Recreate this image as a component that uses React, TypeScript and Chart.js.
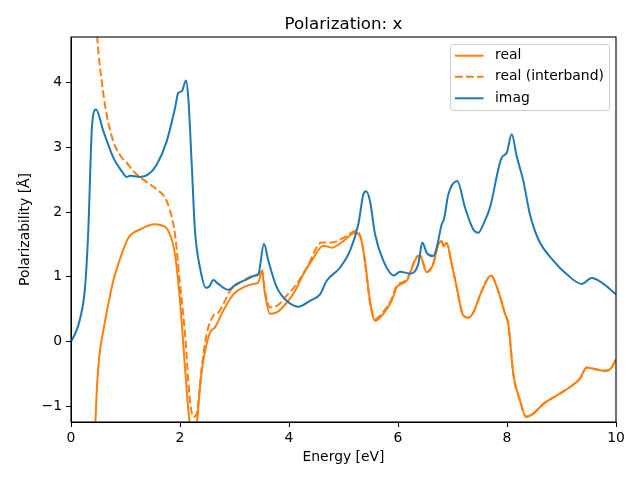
import React, { useEffect, useRef } from 'react';
import { Chart, registerables } from 'chart.js';

Chart.register(...registerables);

const FONT = "'DejaVu Sans', 'Liberation Sans', sans-serif";
const ORANGE = '#ff7f0e';
const BLUE = '#1f77b4';

const TITLE = 'Polarization: x';
const X_LABEL = 'Energy [eV]';
const Y_LABEL = 'Polarizability [Å]';
const LEGEND_LABELS = ['real', 'real (interband)', 'imag'];

const xTicks = [0, 2, 4, 6, 8, 10];
const yTicks = [-1, 0, 1, 2, 3, 4];

const realE = [0.445, 0.47, 0.50, 0.532, 0.593, 0.684, 0.776, 0.93, 1.051, 1.266, 1.541, 1.633, 1.785, 1.908, 2.0, 2.092, 2.171, 2.245, 2.31, 2.367, 2.428, 2.55, 2.642, 2.795, 2.978, 3.193, 3.345, 3.437, 3.499, 3.56, 3.651, 3.774, 3.958, 4.11, 4.262, 4.417, 4.629, 4.784, 4.996, 5.211, 5.303, 5.394, 5.486, 5.578, 5.73, 5.884, 5.976, 6.16, 6.343, 6.404, 6.527, 6.648, 6.739, 6.802, 6.84, 6.89, 6.985, 7.077, 7.198, 7.29, 7.382, 7.536, 7.706, 7.84, 7.963, 8.024, 8.116, 8.239, 8.349, 8.483, 8.666, 8.912, 9.156, 9.339, 9.462, 9.584, 9.798, 9.92, 10.0];
const realV = [-1.32, -0.80, -0.40, -0.13, 0.17, 0.58, 0.94, 1.35, 1.60, 1.73, 1.81, 1.80, 1.71, 1.35, 0.63, -0.40, -1.2, -1.45, -1.25, -0.70, -0.29, 0.14, 0.22, 0.48, 0.73, 0.85, 0.89, 0.91, 1.09, 0.73, 0.43, 0.45, 0.60, 0.78, 1.04, 1.25, 1.48, 1.45, 1.55, 1.68, 1.63, 1.25, 0.63, 0.32, 0.43, 0.63, 0.84, 0.94, 1.30, 1.32, 1.07, 1.20, 1.50, 1.55, 1.47, 1.52, 1.20, 0.84, 0.40, 0.37, 0.45, 0.78, 1.02, 0.78, 0.43, 0.27, -0.50, -0.91, -1.16, -1.11, -0.96, -0.83, -0.70, -0.57, -0.40, -0.42, -0.45, -0.40, -0.27];

const interE = [0.44, 0.483, 0.563, 0.655, 0.776, 0.93, 1.022, 1.143, 1.327, 1.572, 1.725, 1.817, 1.908, 2.0, 2.092, 2.183, 2.244, 2.306, 2.398, 2.49, 2.611, 2.703, 2.826, 2.917, 3.10, 3.284, 3.437, 3.499, 3.56, 3.651, 3.774, 3.958, 4.141, 4.325, 4.60, 4.784, 4.996, 5.242, 5.334, 5.394, 5.486, 5.578, 5.73, 5.884, 5.976, 6.16, 6.343, 6.404, 6.527, 6.648, 6.739, 6.802, 6.84, 6.89, 6.985, 7.077, 7.198, 7.29, 7.382, 7.536, 7.706, 7.84, 7.963, 8.024, 8.116, 8.239, 8.349, 8.483, 8.666, 8.912, 9.156, 9.339, 9.462, 9.584, 9.798, 9.92, 10.0];
const interV = [5.4, 4.68, 4.02, 3.50, 3.09, 2.84, 2.76, 2.63, 2.50, 2.35, 2.22, 2.02, 1.66, 0.89, 0.12, -0.91, -1.16, -1.11, -0.40, 0.12, 0.40, 0.45, 0.63, 0.78, 0.91, 1.00, 1.04, 1.12, 0.78, 0.53, 0.55, 0.71, 0.89, 1.14, 1.53, 1.53, 1.60, 1.71, 1.55, 1.22, 0.60, 0.35, 0.46, 0.66, 0.86, 0.96, 1.31, 1.33, 1.08, 1.21, 1.50, 1.55, 1.47, 1.52, 1.20, 0.84, 0.40, 0.37, 0.45, 0.78, 1.02, 0.78, 0.43, 0.27, -0.50, -0.91, -1.16, -1.11, -0.96, -0.83, -0.70, -0.57, -0.40, -0.42, -0.45, -0.40, -0.27];

const imagE = [0, 0.1, 0.165, 0.257, 0.317, 0.38, 0.41, 0.459, 0.593, 0.776, 0.93, 1.022, 1.083, 1.266, 1.418, 1.572, 1.756, 1.908, 1.969, 2.031, 2.11, 2.152, 2.215, 2.275, 2.367, 2.477, 2.538, 2.611, 2.703, 2.886, 3.04, 3.224, 3.376, 3.437, 3.541, 3.62, 3.774, 3.958, 4.17, 4.385, 4.569, 4.692, 4.936, 5.119, 5.272, 5.363, 5.413, 5.486, 5.578, 5.73, 5.927, 6.037, 6.22, 6.373, 6.446, 6.527, 6.648, 6.71, 6.802, 6.844, 6.923, 7.088, 7.229, 7.382, 7.473, 7.565, 7.688, 7.903, 7.994, 8.086, 8.178, 8.299, 8.422, 8.574, 8.85, 9.096, 9.37, 9.554, 9.738, 10.0];
const imagV = [0, 0.17, 0.35, 0.83, 1.71, 3.25, 3.51, 3.58, 3.25, 2.84, 2.63, 2.54, 2.56, 2.54, 2.58, 2.73, 3.09, 3.60, 3.84, 3.86, 4.03, 3.76, 2.74, 1.71, 1.14, 0.83, 0.85, 0.95, 0.89, 0.80, 0.89, 0.96, 1.02, 1.04, 1.51, 1.25, 0.84, 0.63, 0.54, 0.63, 0.73, 0.94, 1.14, 1.40, 1.81, 2.27, 2.32, 2.17, 1.66, 1.25, 1.02, 1.08, 1.05, 1.20, 1.53, 1.37, 1.32, 1.45, 1.81, 1.89, 2.27, 2.48, 2.07, 1.73, 1.68, 1.81, 2.07, 2.84, 2.91, 3.20, 2.86, 2.48, 1.96, 1.58, 1.25, 1.04, 0.89, 0.98, 0.91, 0.73];

const Y_MIN = -1.24;
const Y_MAX = 4.7;
const X_MIN = 0;
const X_MAX = 10;

const pts = (xs: number[], ys: number[]) => xs.map((x, i) => ({ x, y: ys[i] }));

const DASH = [7.7, 3.3];

const decorPlugin = {
  id: 'decor',
  afterDatasetsDraw(chart: any) {
    const { ctx, chartArea } = chart;
    ctx.save();
    ctx.strokeStyle = '#000';
    ctx.lineWidth = 1.1;
    ctx.strokeRect(chartArea.left, chartArea.top, chartArea.right - chartArea.left, chartArea.bottom - chartArea.top);
    ctx.restore();
  },
  afterDraw(chart: any) {
    const { ctx, chartArea } = chart;
    ctx.save();
    ctx.fillStyle = '#000';
    ctx.font = `16.7px ${FONT}`;
    ctx.textAlign = 'center';
    ctx.textBaseline = 'alphabetic';
    ctx.fillText(TITLE, (chartArea.left + chartArea.right) / 2, 29);

    const bx = 450.5, by = 44.5, bw = 159, bh = 66, r = 3;
    ctx.beginPath();
    ctx.moveTo(bx + r, by);
    ctx.lineTo(bx + bw - r, by);
    ctx.arcTo(bx + bw, by, bx + bw, by + r, r);
    ctx.lineTo(bx + bw, by + bh - r);
    ctx.arcTo(bx + bw, by + bh, bx + bw - r, by + bh, r);
    ctx.lineTo(bx + r, by + bh);
    ctx.arcTo(bx, by + bh, bx, by + bh - r, r);
    ctx.lineTo(bx, by + r);
    ctx.arcTo(bx, by, bx + r, by, r);
    ctx.closePath();
    ctx.fillStyle = 'rgba(255,255,255,0.8)';
    ctx.fill();
    ctx.strokeStyle = '#cccccc';
    ctx.lineWidth = 1;
    ctx.stroke();

    const rows = [55.7, 76.7, 98.3];
    chart.data.datasets.forEach((ds: any, i: number) => {
      const y = rows[i];
      ctx.beginPath();
      ctx.strokeStyle = ds.borderColor;
      ctx.lineWidth = 2;
      ctx.setLineDash(ds.borderDash || []);
      ctx.moveTo(455, y);
      ctx.lineTo(483.5, y);
      ctx.stroke();
      ctx.setLineDash([]);
      ctx.fillStyle = '#000';
      ctx.font = `13.9px ${FONT}`;
      ctx.textAlign = 'left';
      ctx.textBaseline = 'middle';
      ctx.fillText(LEGEND_LABELS[i], 495, y);
    });
    ctx.restore();
  },
};

export default function App() {
  const ref = useRef<HTMLCanvasElement>(null);
  useEffect(() => {
    document.body.style.margin = '0';
    const common = {
      fill: false,
      pointRadius: 0,
      borderWidth: 2,
      cubicInterpolationMode: 'monotone' as const,
      clip: 0,
    };
    const tickFont = { family: FONT, size: 13.9 };
    const chart = new Chart(ref.current!, {
      type: 'line',
      data: {
        datasets: [
          { ...common, label: LEGEND_LABELS[0], data: pts(realE, realV), borderColor: ORANGE, order: 3 },
          { ...common, label: LEGEND_LABELS[1], data: pts(interE, interV), borderColor: ORANGE, borderDash: DASH, order: 2 },
          { ...common, label: LEGEND_LABELS[2], data: pts(imagE, imagV), borderColor: BLUE, order: 1 },
        ],
      },
      options: {
        responsive: false,
        animation: false,
        devicePixelRatio: 1,
        events: [],
        layout: { padding: { top: 37, right: 24, left: 0, bottom: 0 } },
        plugins: {
          legend: { display: false },
          tooltip: { enabled: false },
          title: { display: false },
        },
        scales: {
          x: {
            type: 'linear',
            min: X_MIN,
            max: X_MAX,
            afterFit: (s: any) => { s.height = 58; },
            afterBuildTicks: (s: any) => { s.ticks = xTicks.map((v) => ({ value: v })); },
            grid: { drawOnChartArea: false, drawTicks: true, tickLength: 5, color: '#000', lineWidth: 1 },
            border: { display: true, color: '#000', width: 1 },
            ticks: { color: '#000', font: tickFont, padding: 3, maxRotation: 0, callback: (v: any) => String(v) },
            title: { display: true, text: X_LABEL, color: '#000', font: { family: FONT, size: 13.9 }, padding: { top: 0, bottom: 14.6 } },
          },
          y: {
            type: 'linear',
            min: Y_MIN,
            max: Y_MAX,
            afterFit: (s: any) => { s.width = 71; },
            afterBuildTicks: (s: any) => { s.ticks = yTicks.map((v) => ({ value: v })); },
            grid: { drawOnChartArea: false, drawTicks: true, tickLength: 5, color: '#000', lineWidth: 1 },
            border: { display: true, color: '#000', width: 1 },
            ticks: { color: '#000', font: tickFont, padding: 4, callback: (v: any) => String(v).replace('-', '\u2212') },
            title: { display: true, text: Y_LABEL, color: '#000', font: { family: FONT, size: 13.9 }, padding: { top: 16.6, bottom: 0 } },
          },
        },
      },
      plugins: [decorPlugin],
    });
    return () => chart.destroy();
  }, []);
  return (
    <div style={{ position: 'absolute', left: 0, top: 0, width: 640, height: 480, background: '#fff' }}>
      <canvas ref={ref} width={640} height={480} style={{ display: 'block' }} />
    </div>
  );
}
